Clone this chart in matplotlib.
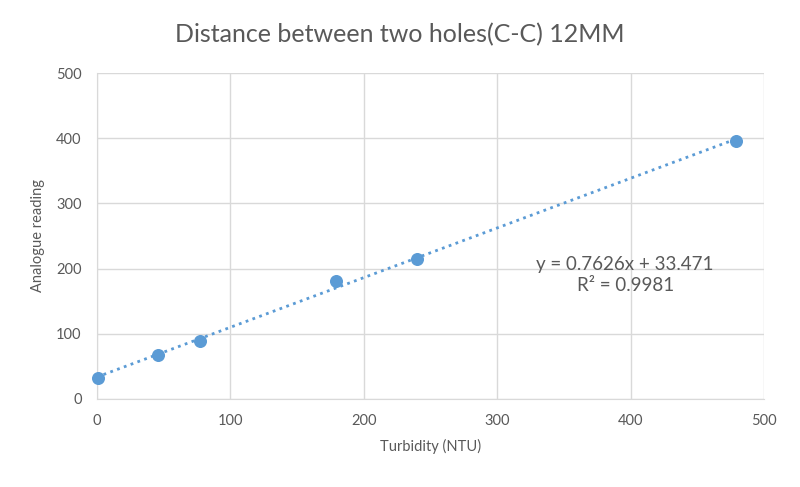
import numpy as np
import matplotlib.pyplot as plt

# -- data --
turbidity = [1, 46, 77, 179, 240, 479]
reading = [32, 68, 89, 181, 214, 395]
slope = 0.7626
intercept = 33.471
r2 = 0.9981

plt.rcParams['font.family'] = ['Lato', 'DejaVu Sans']
txt = '#595959'
grid = '#D9D9D9'
blue = '#5B9BD5'

fig = plt.figure(figsize=(8, 4.87), dpi=100)
ax = fig.add_axes([0.121, 0.181, 0.834, 0.669])

# -- trendline --
xs = np.array([0, max(turbidity)])
ax.plot(xs, slope * xs + intercept, ls=(0, (1, 1.6)), color=blue, lw=2, zorder=2)
ax.scatter(turbidity, reading, s=70, color=blue, zorder=3, clip_on=False)

ax.set_xlim(0, 500)
ax.set_ylim(0, 500)
ax.set_xticks(range(0, 501, 100))
ax.set_yticks(range(0, 501, 100))
ax.grid(True, color=grid, lw=1)
ax.set_axisbelow(True)
for s in ax.spines.values():
    s.set_visible(False)
ax.spines['left'].set_visible(True)
ax.spines['bottom'].set_visible(True)
ax.spines['left'].set_color(grid)
ax.spines['bottom'].set_color(grid)
ax.tick_params(length=0, colors=txt, labelsize=10.5, pad=11)

ax.set_xlabel('Turbidity (NTU)', color=txt, fontsize=10.5, labelpad=8)
ax.set_ylabel('Analogue reading', color=txt, fontsize=10.5, labelpad=8)
fig.text(0.5, 0.928, 'Distance between two holes(C-C) 12MM', color=txt, fontsize=18,
         ha='center', va='center')

ax.text(396, 190, 'y = %.4fx + %.3f\nR² = %.4f' % (slope, intercept, r2),
        ha='center', va='center', color=txt, fontsize=13.5, linespacing=1.3)

plt.savefig('out.png')
